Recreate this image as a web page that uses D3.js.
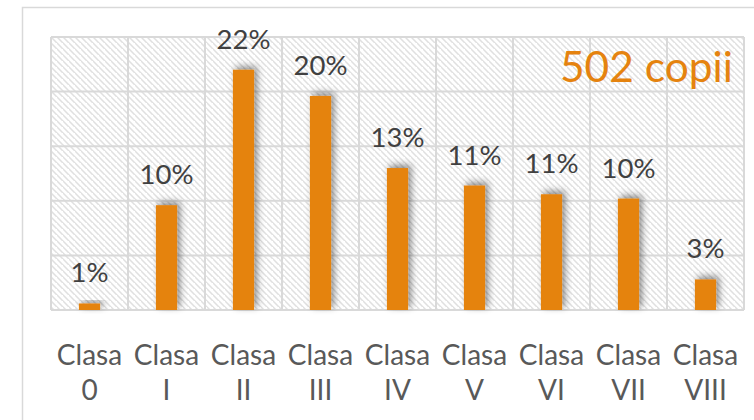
<!DOCTYPE html>
<html><head><meta charset="utf-8">
<script src="https://cdn.jsdelivr.net/npm/d3@7"></script>
<style>html,body{margin:0;padding:0;background:#fff;}svg{display:block;}</style>
</head><body>
<svg id="chart" width="754" height="420"></svg>
<script>
const categories = ["Clasa 0","Clasa I","Clasa II","Clasa III","Clasa IV","Clasa V","Clasa VI","Clasa VII","Clasa VIII"];
const percentages = [0.6, 9.6, 22.0, 19.6, 13.0, 11.4, 10.6, 10.2, 2.8];
const yTicks = [0, 5, 10, 15, 20, 25];
const totalLabel = "502 copii";

const svg = d3.select("#chart");
const W = 754, H = 420;
const m = {left: 51, right: 10, top: 37, bottom: 110};
const plotW = W - m.left - m.right, plotH = H - m.top - m.bottom;
const orange = "#E5830F";
const grid = "#d9d9d9";
const font = "Lato, 'Open Sans', sans-serif";

const defs = svg.append("defs");
const pat = defs.append("pattern").attr("id","hatch").attr("patternUnits","userSpaceOnUse")
  .attr("width",6).attr("height",6);
pat.append("rect").attr("width",6).attr("height",6).attr("fill","#ffffff");
pat.append("path").attr("d","M-1,-1 L7,7 M-4,2 L2,8 M4,-4 L10,2")
  .attr("stroke","#e0e0e0").attr("stroke-width",1.5);
const f = defs.append("filter").attr("id","shadow").attr("x","-100%").attr("y","-50%").attr("width","300%").attr("height","200%");
f.append("feDropShadow").attr("dx",3).attr("dy",-3).attr("stdDeviation",3.5)
  .attr("flood-color","#000").attr("flood-opacity",0.45);

// outer chart border
svg.append("rect").attr("x",22.5).attr("y",7.5).attr("width",W).attr("height",H)
  .attr("fill","none").attr("stroke",grid).attr("stroke-width",1.5);

const g = svg.append("g").attr("transform",`translate(${m.left},${m.top})`);
const x = d3.scaleBand().domain(categories).range([0, plotW]).padding(0);
const y = d3.scaleLinear().domain([0, 25]).range([plotH, 0]);

g.append("rect").attr("width",plotW).attr("height",plotH).attr("fill","url(#hatch)");

// horizontal gridlines
g.selectAll("line.h").data(yTicks).join("line").attr("class","h")
  .attr("x1",0).attr("x2",plotW).attr("y1",d=>y(d)).attr("y2",d=>y(d))
  .attr("stroke",grid).attr("stroke-width",2);
// vertical gridlines at category boundaries
const bounds = categories.map(c=>x(c)).concat([plotW]);
g.selectAll("line.v").data(bounds).join("line").attr("class","v")
  .attr("x1",d=>d).attr("x2",d=>d).attr("y1",0).attr("y2",plotH)
  .attr("stroke",grid).attr("stroke-width",2);

const barW = x.bandwidth()*0.275;
g.selectAll("rect.bar").data(categories).join("rect").attr("class","bar")
  .attr("x",(c)=>x(c)+(x.bandwidth()-barW)/2)
  .attr("y",(c,i)=>y(percentages[i]))
  .attr("width",barW)
  .attr("height",(c,i)=>plotH - y(percentages[i]))
  .attr("fill",orange).attr("filter","url(#shadow)");

// data labels
g.selectAll("text.lbl").data(categories).join("text").attr("class","lbl")
  .attr("x",c=>x(c)+x.bandwidth()/2)
  .attr("y",(c,i)=>y(percentages[i]) - 21)
  .attr("text-anchor","middle").attr("font-family",font).attr("font-size",27.5)
  .attr("fill","#404040")
  .text((c,i)=>Math.round(percentages[i]) + "%");

// x axis labels (two lines)
const xl = g.selectAll("text.xl").data(categories).join("text").attr("class","xl")
  .attr("text-anchor","middle").attr("font-family",font).attr("font-size",28)
  .attr("fill","#595959");
xl.each(function(c){
  const parts = c.split(" ");
  const t = d3.select(this);
  const cx = x(c)+x.bandwidth()/2;
  t.append("tspan").attr("x",cx).attr("y",plotH+55).text(parts[0]);
  t.append("tspan").attr("x",cx).attr("y",plotH+90).text(parts[1]);
});

// total label
g.append("text").attr("x",733-m.left).attr("y",82-m.top).attr("text-anchor","end")
  .attr("font-family",font).attr("font-size",42.5).attr("fill",orange).text(totalLabel);
</script>
</body></html>
